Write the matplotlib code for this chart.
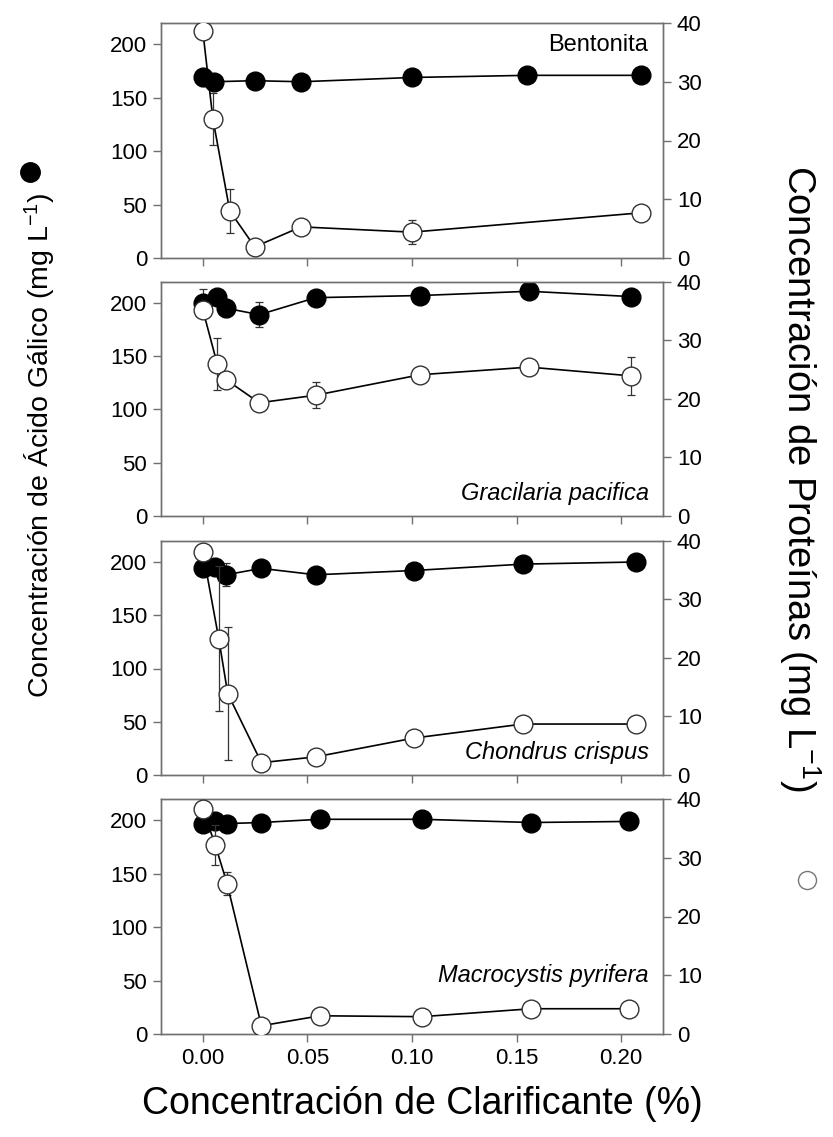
import matplotlib
matplotlib.use("Agg")
import matplotlib.pyplot as plt
from matplotlib.lines import Line2D

plt.rcParams['font.family'] = ['Liberation Sans', 'DejaVu Sans']
plt.rcParams['mathtext.fontset'] = 'custom'
plt.rcParams['mathtext.rm'] = 'Liberation Sans'
plt.rcParams['mathtext.it'] = 'Liberation Sans:italic'

panel_names = ["Bentonita", "Gracilaria pacifica", "Chondrus crispus", "Macrocystis pyrifera"]

# Gallic acid (filled, left axis)
x_gal_1 = [0.000, 0.0052, 0.0248, 0.047, 0.100, 0.155, 0.2097]
gal_1 = [169, 165, 166, 165, 169, 171, 171]
gal_err_1 = [8, 0, 0, 0, 0, 0, 0]
x_gal_2 = [0.000, 0.0069, 0.0113, 0.027, 0.054, 0.104, 0.156, 0.2048]
gal_2 = [200, 206, 195, 189, 205, 207, 211, 206]
gal_err_2 = [13, 0, 8, 12, 0, 0, 0, 0]
x_gal_3 = [0.000, 0.006, 0.011, 0.028, 0.054, 0.1008, 0.153, 0.207]
gal_3 = [194, 195, 188, 194, 188, 192, 198, 200]
gal_err_3 = [0, 0, 11, 0, 0, 0, 0, 0]
x_gal_4 = [0.000, 0.006, 0.0116, 0.028, 0.056, 0.1048, 0.157, 0.2037]
gal_4 = [197, 199, 197, 198, 201, 201, 198, 199]
gal_err_4 = [0, 0, 0, 0, 0, 0, 0, 0]

# Proteins (open, right axis)
x_pro_1 = [0.000, 0.0048, 0.0129, 0.0248, 0.047, 0.100, 0.2097]
pro_1 = [38.6, 23.7, 8.0, 1.9, 5.3, 4.4, 7.7]
pro_err_1 = [0, 4.4, 3.7, 0, 0, 2.0, 0]
x_pro_2 = [0.000, 0.0069, 0.0113, 0.027, 0.054, 0.104, 0.156, 0.2048]
pro_2 = [35.2, 25.9, 23.2, 19.3, 20.6, 24.1, 25.4, 23.9]
pro_err_2 = [0, 4.4, 0, 0, 2.2, 0, 0, 3.3]
x_pro_3 = [0.000, 0.0076, 0.0119, 0.028, 0.054, 0.1008, 0.153, 0.207]
pro_3 = [38.1, 23.3, 13.9, 2.1, 3.1, 6.3, 8.7, 8.7]
pro_err_3 = [0, 12.3, 11.4, 0, 0, 0, 0, 0]
x_pro_4 = [0.000, 0.006, 0.0116, 0.028, 0.056, 0.1048, 0.157, 0.2037]
pro_4 = [38.3, 32.1, 25.6, 1.4, 3.1, 2.95, 4.3, 4.3]
pro_err_4 = [0, 3.4, 2.0, 0, 0, 0, 0, 0]

gal_x = [x_gal_1, x_gal_2, x_gal_3, x_gal_4]
gal_y = [gal_1, gal_2, gal_3, gal_4]
gal_e = [gal_err_1, gal_err_2, gal_err_3, gal_err_4]
pro_x = [x_pro_1, x_pro_2, x_pro_3, x_pro_4]
pro_y = [pro_1, pro_2, pro_3, pro_4]
pro_e = [pro_err_1, pro_err_2, pro_err_3, pro_err_4]

x_ticks = [0.00, 0.05, 0.10, 0.15, 0.20]
left_ticks = [0, 50, 100, 150, 200]
right_ticks = [0, 10, 20, 30, 40]

W, H = 833, 1137
fig = plt.figure(figsize=(W / 100, H / 100), dpi=100)

left = 161 / W
width = (663 - 161) / W
tops = [23, 281.7, 540.7, 799]
bottoms = [258, 515.7, 775, 1034]

spine_col = '#707070'
tick_fs = 16
name_fs = 17

name_pos = [(0.970, 0.905), (0.972, 0.097), (0.972, 0.094), (0.972, 0.25)]

for i in range(4):
    ax = fig.add_axes([left, 1 - bottoms[i] / H, width, (bottoms[i] - tops[i]) / H])
    ax2 = ax.twinx()
    ax.set_xlim(-0.02, 0.22)
    ax.set_ylim(0, 220)
    ax2.set_ylim(0, 40)
    ax.set_xticks(x_ticks)
    ax.set_yticks(left_ticks)
    ax2.set_yticks(right_ticks)
    for a in (ax, ax2):
        for s in a.spines.values():
            s.set_color(spine_col)
            s.set_linewidth(1.0)
        a.tick_params(direction='out', length=6, width=1, color=spine_col,
                      labelsize=tick_fs, pad=4)
    if i < 3:
        ax.set_xticklabels([])
    else:
        ax.set_xticklabels(['%.2f' % v for v in x_ticks])

    # filled series on ax
    ax.errorbar(gal_x[i], gal_y[i], yerr=gal_e[i], fmt='none', ecolor='#333333',
                elinewidth=0.9, capsize=3, capthick=0.9, zorder=2)
    ax.plot(gal_x[i], gal_y[i], color='black', lw=1.2, marker='o', ms=13.5,
            mfc='black', mec='black', zorder=3)
    # open series on ax2
    ax2.errorbar(pro_x[i], pro_y[i], yerr=pro_e[i], fmt='none', ecolor='#333333',
                 elinewidth=0.9, capsize=3, capthick=0.9, zorder=2)
    ax2.plot(pro_x[i], pro_y[i], color='black', lw=1.2, marker='o', ms=13.5,
             mfc='white', mec='#333333', mew=1.0, zorder=3)

    ax.text(name_pos[i][0], name_pos[i][1], panel_names[i], transform=ax.transAxes,
            ha='right', va='center', fontsize=name_fs,
            style='normal' if i == 0 else 'italic')

fig.text(422 / W, 1 - 1104 / H, 'Concentración de Clarificante (%)',
         ha='center', va='center', fontsize=27)
fig.text(40 / W, 1 - 445 / H, r'Concentración de Ácido Gálico (mg L$^{-1}$)',
         ha='center', va='center', rotation=90, fontsize=20.5)
fig.text(800 / W, 1 - 478 / H, r'Concentración de Proteínas (mg L$^{-1}$)',
         ha='center', va='center', rotation=-90, fontsize=27.5)

fig.add_artist(Line2D([30 / W], [1 - 172 / H], marker='o', ms=14, mfc='black',
                      mec='black', transform=fig.transFigure))
fig.add_artist(Line2D([807 / W], [1 - 880 / H], marker='o', ms=13, mfc='white',
                      mec='#777777', mew=1.0, transform=fig.transFigure))

fig.savefig('out.png', dpi=100)
